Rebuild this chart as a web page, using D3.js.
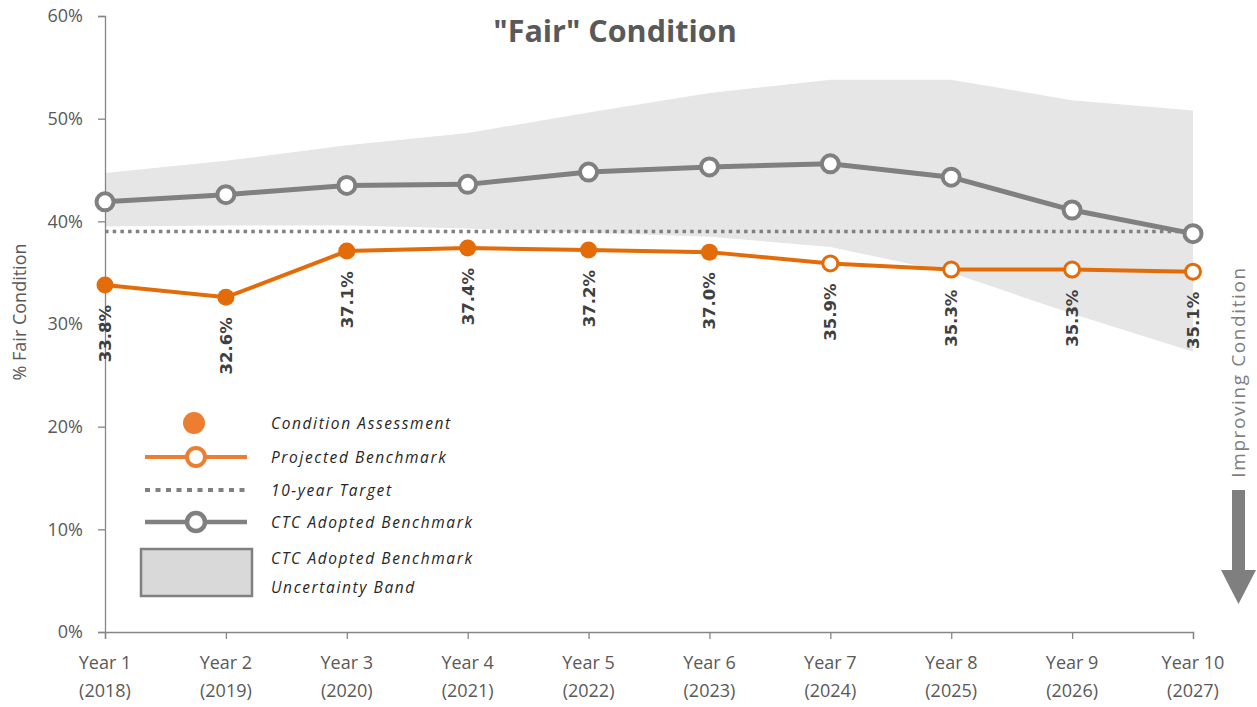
<!DOCTYPE html>
<html>
<head>
<meta charset="utf-8">
<script src="https://cdn.jsdelivr.net/npm/d3@7"></script>
<style>
  body { margin: 0; background: #fff; }
  svg { display: block; font-family: "Open Sans", Lato, sans-serif; }
</style>
</head>
<body>
<svg id="chart" viewBox="0 0 1257 707" width="1257" height="707"></svg>
<script>
// chart data
const years = ["Year 1", "Year 2", "Year 3", "Year 4", "Year 5", "Year 6", "Year 7", "Year 8", "Year 9", "Year 10"];
const yearNums = ["(2018)", "(2019)", "(2020)", "(2021)", "(2022)", "(2023)", "(2024)", "(2025)", "(2026)", "(2027)"];
const fairValues = [33.8, 32.6, 37.1, 37.4, 37.2, 37.0, 35.9, 35.3, 35.3, 35.1];
const assessedCount = 6; // first 6 are condition assessments, rest projected
const ctcBenchmark = [41.9, 42.6, 43.5, 43.6, 44.8, 45.3, 45.6, 44.3, 41.1, 38.8];
const bandUpper = [44.7, 45.9, 47.4, 48.6, 50.6, 52.5, 53.8, 53.8, 51.8, 50.8];
const bandLower = [39.5, 39.6, 39.6, 39.3, 38.9, 38.5, 37.5, 35.0, 31.0, 27.3];
const target = 39;
const yTicks = [0, 10, 20, 30, 40, 50, 60];

const svg = d3.select("#chart");
const orange = "#E36C09";
const orangeLegend = "#ED7D31";
const gray = "#808080";
const textGray = "#595959";

const x = d3.scalePoint().domain(years).range([105, 1193]);
const y = d3.scaleLinear().domain([0, 60]).range([632, 16]);

// uncertainty band
const band = years.map((d, i) => ({ year: d, lo: bandLower[i], hi: bandUpper[i] }));
svg.append("path")
    .datum(band)
    .attr("fill", "#e6e6e6")
    .attr("d", d3.area()
        .x(d => x(d.year))
        .y0(d => y(d.lo))
        .y1(d => y(d.hi)));

// axes
const yAxis = svg.append("g")
    .attr("transform", "translate(105,0)")
    .call(d3.axisLeft(y).tickValues(yTicks).tickSize(7).tickPadding(15).tickFormat(d => d + "%"));
const xAxis = svg.append("g")
    .attr("transform", "translate(0,632)")
    .call(d3.axisBottom(x).tickSize(7).tickFormat(""));
[yAxis, xAxis].forEach(g => {
    g.selectAll(".domain, line").attr("stroke", "#868686").attr("stroke-width", 1.3);
});
yAxis.selectAll("text")
    .attr("fill", textGray)
    .style("font-size", "18px")
    .style("font-family", "'Open Sans', sans-serif");

// x labels on two lines
const xLab = svg.append("g").selectAll("text")
    .data(years)
    .join("text")
    .attr("x", d => x(d))
    .attr("text-anchor", "middle")
    .attr("fill", textGray)
    .style("font-size", "18px");
xLab.append("tspan").attr("x", d => x(d)).attr("y", 669).text(d => d);
xLab.append("tspan").attr("x", d => x(d)).attr("y", 697).text((d, i) => yearNums[i]);

// 10-year target
svg.append("line")
    .attr("x1", x(years[0]))
    .attr("x2", x(years[years.length - 1]))
    .attr("y1", y(target))
    .attr("y2", y(target))
    .attr("stroke", gray)
    .attr("stroke-width", 3.5)
    .attr("stroke-dasharray", "3.5 4.2");

// CTC adopted benchmark
const ctc = years.map((d, i) => ({ year: d, v: ctcBenchmark[i] }));
svg.append("path")
    .datum(ctc)
    .attr("fill", "none")
    .attr("stroke", gray)
    .attr("stroke-width", 5)
    .attr("d", d3.line().x(d => x(d.year)).y(d => y(d.v)));
svg.append("g").selectAll("circle")
    .data(ctc)
    .join("circle")
    .attr("cx", d => x(d.year))
    .attr("cy", d => y(d.v))
    .attr("r", 8.5)
    .attr("fill", "#fff")
    .attr("stroke", gray)
    .attr("stroke-width", 4);

// fair condition line
const fair = years.map((d, i) => ({ year: d, v: fairValues[i], assessed: i < assessedCount }));
svg.append("path")
    .datum(fair)
    .attr("fill", "none")
    .attr("stroke", orange)
    .attr("stroke-width", 4)
    .attr("d", d3.line().x(d => x(d.year)).y(d => y(d.v)));
svg.append("g").selectAll("circle")
    .data(fair)
    .join("circle")
    .attr("cx", d => x(d.year))
    .attr("cy", d => y(d.v))
    .attr("r", d => d.assessed ? 8.5 : 7.5)
    .attr("fill", d => d.assessed ? orange : "#fff")
    .attr("stroke", orange)
    .attr("stroke-width", d => d.assessed ? 0 : 3);

// data labels
svg.append("g").selectAll("text")
    .data(fair)
    .join("text")
    .attr("transform", d => `translate(${x(d.year) + 6},${y(d.v) + 20}) rotate(-90)`)
    .attr("text-anchor", "end")
    .attr("fill", "#404040")
    .style("font-family", "'DejaVu Sans', sans-serif")
    .style("font-weight", "bold")
    .style("font-size", "16.5px")
    .text(d => d.v.toFixed(1) + "%");

// title
svg.append("text")
    .attr("x", 615)
    .attr("y", 42)
    .attr("text-anchor", "middle")
    .attr("fill", textGray)
    .style("font-weight", "bold")
    .style("font-size", "30.5px")
    .text('"Fair" Condition');

// y axis title
svg.append("text")
    .attr("transform", "translate(26,312) rotate(-90)")
    .attr("text-anchor", "middle")
    .attr("fill", textGray)
    .style("font-size", "18px")
    .text("% Fair Condition");

// improving condition arrow
svg.append("text")
    .attr("transform", "translate(1245,372) rotate(-90)")
    .attr("text-anchor", "middle")
    .attr("fill", "#7f7f7f")
    .attr("letter-spacing", "1.6")
    .style("font-size", "19px")
    .text("Improving Condition");
svg.append("path")
    .attr("fill", "#7f7f7f")
    .attr("d", "M1232,490 L1245,490 L1245,570 L1256,570 L1238.5,604 L1221,570 L1232,570 Z");

// legend
const legend = svg.append("g").style("font-style", "italic").style("font-size", "15.5px");
const legendItems = [
    { label: "Condition Assessment", y: 423 },
    { label: "Projected Benchmark", y: 457 },
    { label: "10-year Target", y: 490 },
    { label: "CTC Adopted Benchmark", y: 522 },
    { label: "CTC Adopted Benchmark", y: 558 },
    { label: "Uncertainty Band", y: 587 }
];
legend.selectAll("text")
    .data(legendItems)
    .join("text")
    .attr("x", 271)
    .attr("y", d => d.y + 6)
    .attr("fill", "#262626")
    .attr("letter-spacing", "1.6")
    .text(d => d.label);

legend.append("circle").attr("cx", 194).attr("cy", 423).attr("r", 11).attr("fill", orangeLegend);
legend.append("line").attr("x1", 145).attr("x2", 247).attr("y1", 457).attr("y2", 457)
    .attr("stroke", orangeLegend).attr("stroke-width", 4);
legend.append("circle").attr("cx", 196).attr("cy", 457).attr("r", 9)
    .attr("fill", "#fff").attr("stroke", orangeLegend).attr("stroke-width", 4);
legend.append("line").attr("x1", 145).attr("x2", 247).attr("y1", 490).attr("y2", 490)
    .attr("stroke", gray).attr("stroke-width", 4).attr("stroke-dasharray", "5 5.5");
legend.append("line").attr("x1", 145).attr("x2", 247).attr("y1", 522).attr("y2", 522)
    .attr("stroke", gray).attr("stroke-width", 4.5);
legend.append("circle").attr("cx", 196).attr("cy", 522).attr("r", 9)
    .attr("fill", "#fff").attr("stroke", gray).attr("stroke-width", 4.5);
legend.append("rect").attr("x", 141).attr("y", 549).attr("width", 111).attr("height", 47)
    .attr("fill", "#d9d9d9").attr("stroke", gray).attr("stroke-width", 2.5);
</script>
</body>
</html>
